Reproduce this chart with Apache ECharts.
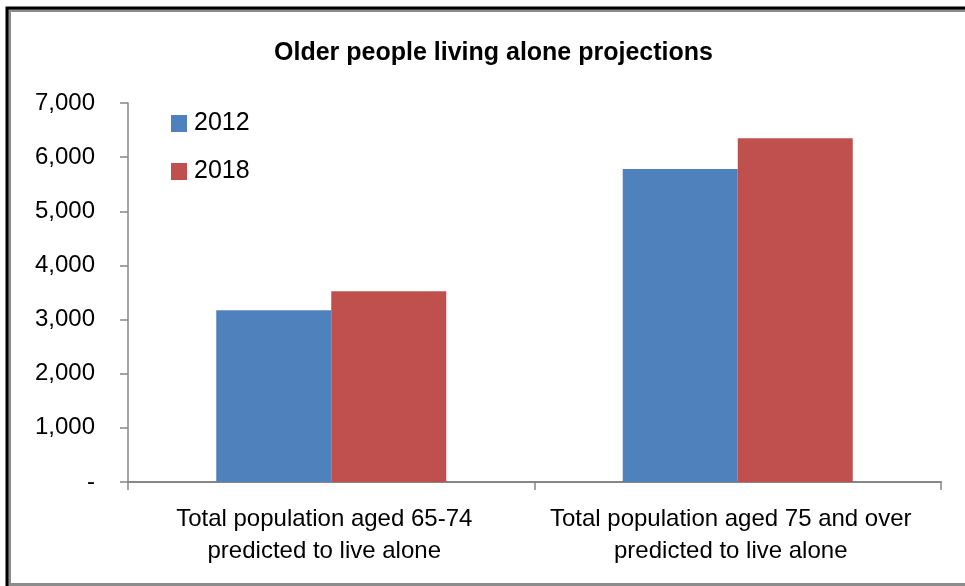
<!DOCTYPE html>
<html>
<head>
<meta charset="utf-8">
<script src="https://cdn.jsdelivr.net/npm/echarts@6/dist/echarts.min.js"></script>
<style type="text/css">
    html, body { margin: 0; padding: 0; background: #fff; }
    #chart { width: 965px; height: 586px; }
</style>
</head>
<body>
<div id="chart"></div>
<script>
    var categories = ['Total population aged 65-74\npredicted to live alone', 'Total population aged 75 and over\npredicted to live alone'];
    var seriesNames = ['2012', '2018'];
    var values2012 = [3170, 5780];
    var values2018 = [3525, 6350];
    var yTicks = [0, 1000, 2000, 3000, 4000, 5000, 6000, 7000];

    var labelFont = "'Liberation Sans', Arial, sans-serif";
    var axisGray = '#868686';

    var myChart = echarts.init(document.getElementById('chart'));

    var option = {
        animation: false,
        title: {
            text: 'Older people living alone projections',
            left: 269,
            top: 36,
            textStyle: {
                fontFamily: labelFont,
                fontSize: 25,
                fontWeight: 'bold',
                color: '#000'
            }
        },
        legend: {
            orient: 'vertical',
            left: 166,
            top: 106,
            icon: 'rect',
            itemWidth: 16,
            itemHeight: 17,
            itemGap: 23,
            data: seriesNames,
            textStyle: {
                fontFamily: labelFont,
                fontSize: 25,
                color: '#000',
                padding: [0, 0, 0, 2]
            }
        },
        grid: {
            left: 128,
            right: 24,
            top: 103,
            bottom: 104
        },
        xAxis: {
            type: 'category',
            data: categories,
            axisLine: { lineStyle: { color: axisGray, width: 2 } },
            axisTick: { show: true, length: 8, lineStyle: { color: axisGray, width: 1.5 } },
            axisLabel: {
                interval: 0,
                margin: 21,
                lineHeight: 32,
                padding: [0, 14, 0, 0],
                fontFamily: labelFont,
                fontSize: 24,
                color: '#000'
            }
        },
        yAxis: {
            type: 'value',
            min: yTicks[0],
            max: yTicks[yTicks.length - 1],
            interval: 1000,
            splitLine: { show: false },
            axisLine: { show: true, lineStyle: { color: axisGray, width: 1.5 } },
            axisTick: { show: true, length: 8, lineStyle: { color: axisGray, width: 1.5 } },
            axisLabel: {
                margin: 33,
                fontFamily: labelFont,
                fontSize: 24,
                color: '#000',
                formatter: function (v) {
                    if (v === 0) return '-';
                    return v.toLocaleString('en-US');
                }
            }
        },
        series: [
            {
                name: seriesNames[0],
                type: 'bar',
                data: values2012,
                barWidth: 115,
                barGap: '0%',
                itemStyle: { color: '#4F81BD' }
            },
            {
                name: seriesNames[1],
                type: 'bar',
                data: values2018,
                barWidth: 115,
                barGap: '0%',
                itemStyle: { color: '#C0504D' }
            }
        ],
        graphic: [
            {
                type: 'rect',
                shape: { x: 9.5, y: 10.5, width: 970, height: 574 },
                style: { fill: 'none', stroke: '#8c8c8c', lineWidth: 3 },
                silent: true
            },
            {
                type: 'polyline',
                shape: { points: [[7, 600], [7, 8], [980, 8]] },
                style: { fill: 'none', stroke: '#000', lineWidth: 3 },
                silent: true
            }
        ]
    };

    myChart.setOption(option);
</script>
</body>
</html>
